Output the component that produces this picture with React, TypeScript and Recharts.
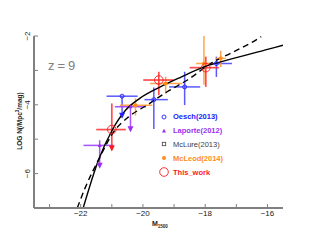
import React from 'react';
import { ComposedChart, Line, Scatter, XAxis, YAxis, ErrorBar } from 'recharts';

// fitted LFs
const solidM = [-21.92, -21.43, -20.99, -20.56, -20.08, -19.44, -18.79, -18.04, -17.0, -16.0, -15.5];
const solidLogN = [-7.0, -5.61, -4.74, -4.16, -3.8, -3.48, -3.2, -2.9, -2.63, -2.39, -2.27];
const dashedM = [-22.11, -21.85, -21.4, -20.95, -20.46, -19.87, -19.22, -18.57, -17.82, -17.18, -16.53, -16.2];
const dashedLogN = [-7.0, -6.4, -5.55, -4.8, -4.35, -4.01, -3.62, -3.28, -2.8, -2.5, -2.2, -2.02];

// Oesch(2013)
const oeschM = [-20.67, -19.65, -18.66, -17.64];
const oeschLogN = [-3.75, -3.85, -3.48, -2.8];
const oeschErrM = [[0.5, 0.5], [0.3, 0.45], [0.5, 0.5], [0.25, 0.5]];
const oeschErrLogN = [[0.6, 0], [0.85, 0.35], [0.53, 0.44], [0.39, 0.2]];
const oeschLimM = [-20.67];
const oeschLimLogN = [-4.35];

// Laporte(2012)
const laporteM = [-21.39, -20.4];
const laporteLogN = [-5.18, -4.06];
const laporteErrM = [[0.52, 0.45], [0.5, 0.5]];
const laporteErrLogN = [[0.6, 0.15], [0.68, 0]];
const laporteLimM = [-21.39, -20.4];
const laporteLimLogN = [-5.8, -4.74];

// McLeod(2014)
const mcleodM = [-20.24, -19.27, -18.04, -17.5];
const mcleodLogN = [-4.01, -3.38, -2.8, -2.65];
const mcleodErrM = [[0.5, 0.54], [0.5, 0.53], [0.25, 0.3], [0.16, 0.16]];
const mcleodErrLogN = [[0.3, 0.2], [0.3, 0.2], [0.62, 0.8], [0.25, 0.22]];

// This_work
const thisM = [-21.0, -19.49, -17.98];
const thisLogN = [-4.72, -3.28, -2.92];
const thisErrM = [[0.5, 0.45], [0.5, 0.47], [0.52, 0.42]];
const thisErrLogN = [[0.58, 0.76], [0.44, 0.24], [0.56, 0.32]];
const thisLimM = [-21.0];
const thisLimLogN = [-5.3];

const xTicks = [-23, -22, -21, -20, -19, -18, -17, -16];
const yTicks = [-7, -6, -5, -4, -3, -2];

const legendNames = ['Oesch(2013)', 'Laporte(2012)', 'McLure(2013)', 'McLeod(2014)', 'This_work'];
const legendColors = ['#2020ff', '#9b30f0', '#404040', '#ff8c1a', '#ff1a1a'];

const BLUE = '#2020ff';
const PURPLE = '#9b30f0';
const ORANGE = '#ff8c1a';
const RED = '#ff1a1a';
const FONT = '"Liberation Sans", Arial, sans-serif';

const toPts = (m: number[], logN: number[], eM?: number[][], eL?: number[][]) =>
  m.map((v, i) => ({ m: v, logN: logN[i], eM: eM ? eM[i] : undefined, eL: eL ? eL[i] : undefined }));

const minus = (v: number) => (v < 0 ? '\u2212' + Math.abs(v) : String(v));

const XTick = (props: any) => {
  const { x, y, payload } = props;
  if (payload.value % 2 !== 0) return <g />;
  return (
    <text x={x} y={y} dy="0.71em" textAnchor="middle" fontSize={8} fontFamily={FONT} fill="#222">
      {minus(payload.value)}
    </text>
  );
};

const YTick = (props: any) => {
  const { x, y, payload } = props;
  if (payload.value % 2 !== 0) return <g />;
  return (
    <text x={x} y={y} textAnchor="middle" fontSize={8} fontFamily={FONT} fill="#222" transform={`rotate(-90, ${x}, ${y})`}>
      {minus(payload.value)}
    </text>
  );
};

const hollowCircle = (color: string, r: number) => (p: any) =>
  <circle cx={p.cx} cy={p.cy} r={r} fill="none" stroke={color} strokeWidth={0.9} />;
const filledCircle = (color: string, r: number) => (p: any) =>
  <circle cx={p.cx} cy={p.cy} r={r} fill={color} />;
const upTri = (color: string) => (p: any) =>
  <path d={`M${p.cx},${p.cy - 2.2} L${p.cx + 2},${p.cy + 1.5} L${p.cx - 2},${p.cy + 1.5} Z`} fill={color} />;
const downArrow = (color: string) => (p: any) =>
  <path d={`M${p.cx - 3},${p.cy - 4} L${p.cx + 3},${p.cy - 4} L${p.cx},${p.cy + 2} Z`} fill={color} />;

const errBars = (color: string, w: number, op: number) => [
  <ErrorBar key="x" dataKey="eM" direction="x" width={0} stroke={color} strokeWidth={w} strokeOpacity={op} isAnimationActive={false} />,
  <ErrorBar key="y" dataKey="eL" direction="y" width={0} stroke={color} strokeWidth={w} strokeOpacity={op} isAnimationActive={false} />,
];

const LegendMarker = ({ i }: { i: number }) => {
  const c = legendColors[i];
  if (i === 0) return <circle cx={6} cy={6} r={2} fill="none" stroke={c} strokeWidth={0.9} />;
  if (i === 1) return <path d="M6,3.8 L8,7.5 L4,7.5 Z" fill={c} />;
  if (i === 2) return <rect x={4.3} y={4.3} width={3.4} height={3.4} fill="none" stroke={c} strokeWidth={0.8} />;
  if (i === 3) return <circle cx={6} cy={6} r={2} fill={c} />;
  return <circle cx={6} cy={6} r={4.3} fill="none" stroke={c} strokeWidth={0.9} />;
};

export default function App() {
  const axisStroke = '#808080';
  return (
    <div style={{ position: 'absolute', left: 0, top: 0, width: 317, height: 245, background: '#fff' }}>
      <ComposedChart width={317} height={245} margin={{ top: 36, right: 34, bottom: 7, left: 8 }}>
        <XAxis
          xAxisId={0}
          type="number"
          dataKey="m"
          domain={[-23.5, -15.5]}
          allowDataOverflow
          ticks={xTicks}
          height={30}
          tickSize={-4}
          tickMargin={6}
          axisLine={{ stroke: axisStroke, strokeWidth: 2 }}
          tickLine={{ stroke: axisStroke }}
          tick={<XTick />}
        />
        <XAxis
          xAxisId="top"
          orientation="top"
          type="number"
          dataKey="m"
          domain={[-23.5, -15.5]}
          allowDataOverflow
          ticks={xTicks}
          height={0}
          tickSize={-4}
          axisLine={{ stroke: axisStroke, strokeWidth: 2 }}
          tickLine={{ stroke: axisStroke }}
          tick={false}
        />
        <YAxis
          yAxisId={0}
          type="number"
          domain={[-7, -2]}
          allowDataOverflow
          ticks={yTicks}
          width={26}
          tickSize={-4}
          tickMargin={8}
          axisLine={{ stroke: axisStroke, strokeWidth: 2 }}
          tickLine={{ stroke: axisStroke }}
          tick={<YTick />}
        />
        <YAxis
          yAxisId="right"
          orientation="right"
          type="number"
          domain={[-7, -2]}
          allowDataOverflow
          ticks={yTicks}
          width={0}
          tickSize={-4}
          axisLine={{ stroke: axisStroke, strokeWidth: 2 }}
          tickLine={{ stroke: axisStroke }}
          tick={false}
        />

        <Scatter data={toPts(oeschM, oeschLogN, oeschErrM, oeschErrLogN)} dataKey="logN" shape={hollowCircle(BLUE, 2)} isAnimationActive={false}>
          {errBars('#4848ff', 1.5, 0.9)}
        </Scatter>
        <Scatter data={toPts(laporteM, laporteLogN, laporteErrM, laporteErrLogN)} dataKey="logN" shape={upTri(PURPLE)} isAnimationActive={false}>
          {errBars('#a040ff', 1.5, 0.9)}
        </Scatter>
        <Scatter data={toPts(mcleodM, mcleodLogN, mcleodErrM, mcleodErrLogN)} dataKey="logN" shape={filledCircle(ORANGE, 2)} isAnimationActive={false}>
          {errBars('#ff9a3a', 1.5, 0.9)}
        </Scatter>
        <Scatter data={toPts(thisM, thisLogN, thisErrM, thisErrLogN)} dataKey="logN" shape={hollowCircle(RED, 4.3)} isAnimationActive={false}>
          {errBars('#ff2020', 1.7, 0.8)}
        </Scatter>

        <Scatter data={toPts(oeschLimM, oeschLimLogN)} dataKey="logN" shape={downArrow(BLUE)} isAnimationActive={false} />
        <Scatter data={toPts(laporteLimM, laporteLimLogN)} dataKey="logN" shape={downArrow(PURPLE)} isAnimationActive={false} />
        <Scatter data={toPts(thisLimM, thisLimLogN)} dataKey="logN" shape={downArrow(RED)} isAnimationActive={false} />

        <Line data={toPts(solidM, solidLogN)} dataKey="logN" type="monotone" dot={false} stroke="#000" strokeWidth={1.4} isAnimationActive={false} />
        <Line data={toPts(dashedM, dashedLogN)} dataKey="logN" type="monotone" dot={false} stroke="#000" strokeWidth={1.4} strokeDasharray="6 4" isAnimationActive={false} />
      </ComposedChart>

      <div style={{ position: 'absolute', left: 48, top: 58, fontFamily: FONT, fontSize: 13, color: '#808080', letterSpacing: 3 }}>z=9</div>

      <div
        style={{
          position: 'absolute',
          left: 19,
          top: 121,
          transform: 'translate(-50%, -50%) rotate(-90deg)',
          whiteSpace: 'nowrap',
          fontFamily: FONT,
          fontSize: 6.5,
          fontWeight: 'bold',
          color: '#222',
        }}
      >
        LOG N(/Mpc<sup style={{ fontSize: 4.5 }}>3</sup>/mag)
      </div>

      <div style={{ position: 'absolute', left: 152, top: 220, fontFamily: FONT, fontSize: 7, fontWeight: 'bold', color: '#222' }}>
        M<sub style={{ fontSize: 4.5 }}>1500</sub>
      </div>

      <div style={{ position: 'absolute', left: 158, top: 110 }}>
        {legendNames.map((n, i) => (
          <div key={n} style={{ display: 'flex', alignItems: 'center', height: 13.8 }}>
            <svg width={12} height={12} style={{ display: 'block' }}>
              <LegendMarker i={i} />
            </svg>
            <span
              style={{
                marginLeft: 3,
                fontFamily: FONT,
                fontSize: 7.5,
                fontWeight: i === 2 ? 'normal' : 'bold',
                color: legendColors[i],
                whiteSpace: 'nowrap',
              }}
            >
              {n}
            </span>
          </div>
        ))}
      </div>
    </div>
  );
}
